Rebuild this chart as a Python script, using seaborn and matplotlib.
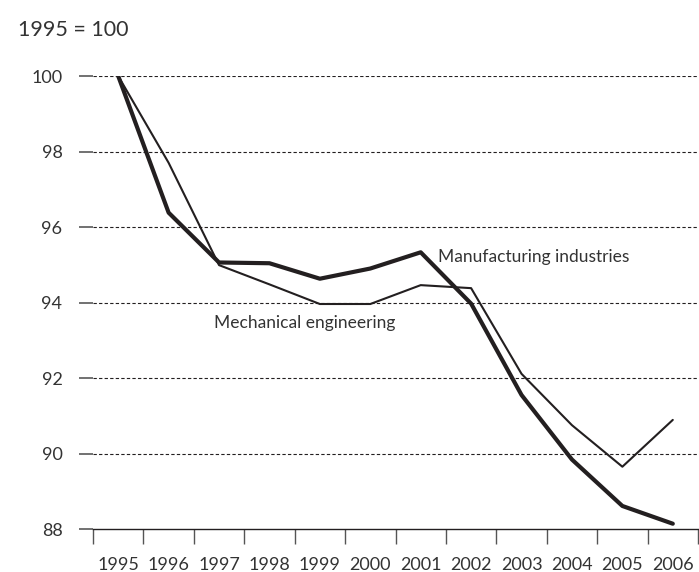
import pandas as pd
import seaborn as sns
import matplotlib.pyplot as plt
from matplotlib.ticker import FixedLocator

years = list(range(1995, 2007))
manufacturing = [100, 96.38, 95.06, 95.04, 94.63, 94.90, 95.33, 93.97, 91.55, 89.84, 88.61, 88.14]
mechanical = [100, 97.70, 94.99, 94.48, 93.96, 93.96, 94.46, 94.38, 92.11, 90.75, 89.65, 90.89]
y_ticks = [88, 90, 92, 94, 96, 98, 100]

df = pd.DataFrame({"year": years, "Manufacturing industries": manufacturing,
                   "Mechanical engineering": mechanical})

sns.set_style("white")
plt.rcParams['font.family'] = ['Lato', 'DejaVu Sans']
ink = "#231f20"
txt = "#333333"

fig = plt.figure(figsize=(6.99, 5.72), dpi=100)
ax = fig.add_axes([93 / 699, 1 - 529 / 572, (698 - 93) / 699, (529 - 76) / 572])

sns.lineplot(data=df, x="year", y="Mechanical engineering", ax=ax, color=ink, linewidth=1.5)
sns.lineplot(data=df, x="year", y="Manufacturing industries", ax=ax, color=ink, linewidth=3.0)

ax.set_xlim(1994.5, 2006.5)
ax.set_ylim(88, 100)
ax.set_yticks(y_ticks)
ax.set_yticklabels([str(v) for v in y_ticks], fontsize=13, color=txt)
ax.set_xticks(years)
ax.set_xticklabels([str(y) for y in years], fontsize=13, color=txt)
ax.xaxis.set_minor_locator(FixedLocator([y - 0.5 for y in years] + [2006.5]))
ax.tick_params(axis="x", which="both", bottom=True)
ax.tick_params(axis="x", which="major", length=0, pad=20)
ax.tick_params(axis="x", which="minor", length=11, width=1, color="#555555", direction="out")
ax.tick_params(axis="y", which="major", left=True, length=10, width=1.3, color="#666666",
               direction="out", pad=12)
ax.set_xlabel("")
ax.set_ylabel("")

for v in y_ticks[1:]:
    ax.axhline(v, color=ink, linewidth=0.8, linestyle=(0, (3, 2)), zorder=0)

for s in ["top", "right", "left"]:
    ax.spines[s].set_visible(False)
ax.spines["bottom"].set_color(ink)
ax.spines["bottom"].set_linewidth(1)

ax.text(2001.35, 95.2, "Manufacturing industries", fontsize=12.5, color=txt, va="center", ha="left")
ax.text(1996.9, 93.45, "Mechanical engineering", fontsize=12.5, color=txt, va="center", ha="left")
fig.text(18 / 699, 1 - 30 / 572, "1995 = 100", fontsize=15.5, color=txt, va="center", ha="left")

fig.savefig("out.png", dpi=100)
